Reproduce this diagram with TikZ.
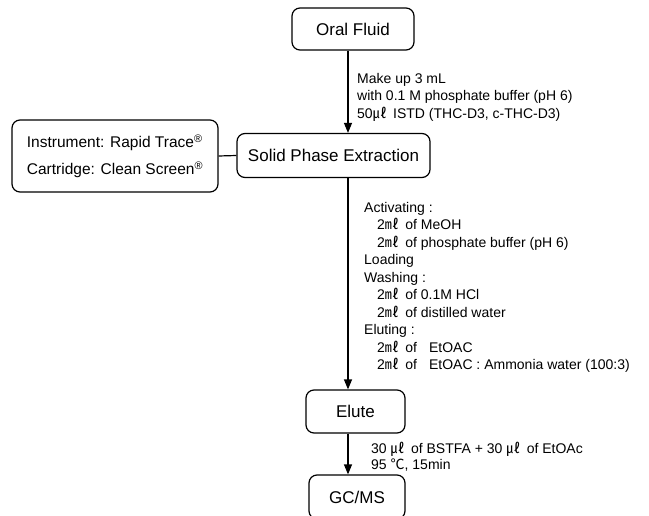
\documentclass[tikz,border=0pt]{standalone}
\usepackage{fontspec}
\setmainfont{Liberation Sans}
\newfontfamily\cjk{Noto Sans CJK KR}
\usetikzlibrary{arrows.meta}
\newcommand{\ml}{{\cjk ㎖}\hspace{2.5pt}}
\newcommand{\ul}{{\cjk ㎕}\hspace{2.5pt}}
\newcommand{\degc}{{\cjk ℃}}
\newcommand{\ind}{\hspace*{13pt}}
\newcommand{\reg}{\textsuperscript{®}}

\begin{document}
\begin{tikzpicture}[%%
  x=1pt,y=-1pt,%%
  boxStyle/.style={draw,rounded corners=8pt,line width=1.2pt,inner sep=0pt,font=\fontsize{17}{20}\selectfont},%%
  arrowStyle/.style={-{Triangle[length=10pt,width=8pt]},line width=1.2pt},%%
  lineStyle/.style={-,line width=1.2pt},%%
  noteStyle/.style={anchor=north west,inner sep=0pt,align=left,font=\fontsize{14}{17.5}\selectfont}
]
\useasboundingbox (0,0) rectangle (649,516);
%%
%% The boxes of the flow.
\node[boxStyle,minimum width=122pt,minimum height=42pt] (oral) at (353,29) {Oral Fluid};
\node[boxStyle,minimum width=193pt,minimum height=44pt] (spe) at (333.5,155.5) {Solid Phase Extraction};
\node[boxStyle,minimum width=206pt,minimum height=72pt,align=left,font=\fontsize{15.5}{27}\selectfont] (info) at (115,156)
  {Instrument: Rapid Trace\reg\\Cartridge: Clean Screen\reg};
\node[boxStyle,minimum width=99pt,minimum height=43pt] (elute) at (355.5,411.5) {Elute};
\node[boxStyle,minimum width=96pt,minimum height=44pt] (gcms) at (357,497) {GC/MS};
%%
%% The column of the arrows.
\coordinate (col) at (348,0);
\draw[arrowStyle] (oral.south -| col) -- (spe.north -| col);
\draw[arrowStyle] (spe.south -| col) -- (elute.north -| col);
\draw[arrowStyle] (elute.south -| col) -- (gcms.north -| col);
\draw[lineStyle] (info.east) -- (spe.west);
%%
%% Notes beside the arrows.
\node[noteStyle] (makeUp) at (357,73)
  {Make up 3 mL\\with 0.1 M phosphate buffer (pH 6)\\50\ul\ ISTD (THC-D3, c-THC-D3)};
\node[noteStyle] (steps) at (364,202)
  {Activating :\\
   \ind2\ml\ of MeOH\\
   \ind2\ml\ of phosphate buffer (pH 6)\\
   Loading\\
   Washing :\\
   \ind2\ml\ of 0.1M HCl\\
   \ind2\ml\ of distilled water\\
   Eluting :\\
   \ind2\ml\ of\hspace{12pt}EtOAC\\
   \ind2\ml\ of\hspace{12pt}EtOAC : Ammonia water (100:3)};
\node[noteStyle,font=\fontsize{14}{15.5}\selectfont] (deriv) at (371,442)
  {30 \ul\ of BSTFA + 30 \ul\ of EtOAc\\95 \degc, 15min};
\end{tikzpicture}
\end{document}
